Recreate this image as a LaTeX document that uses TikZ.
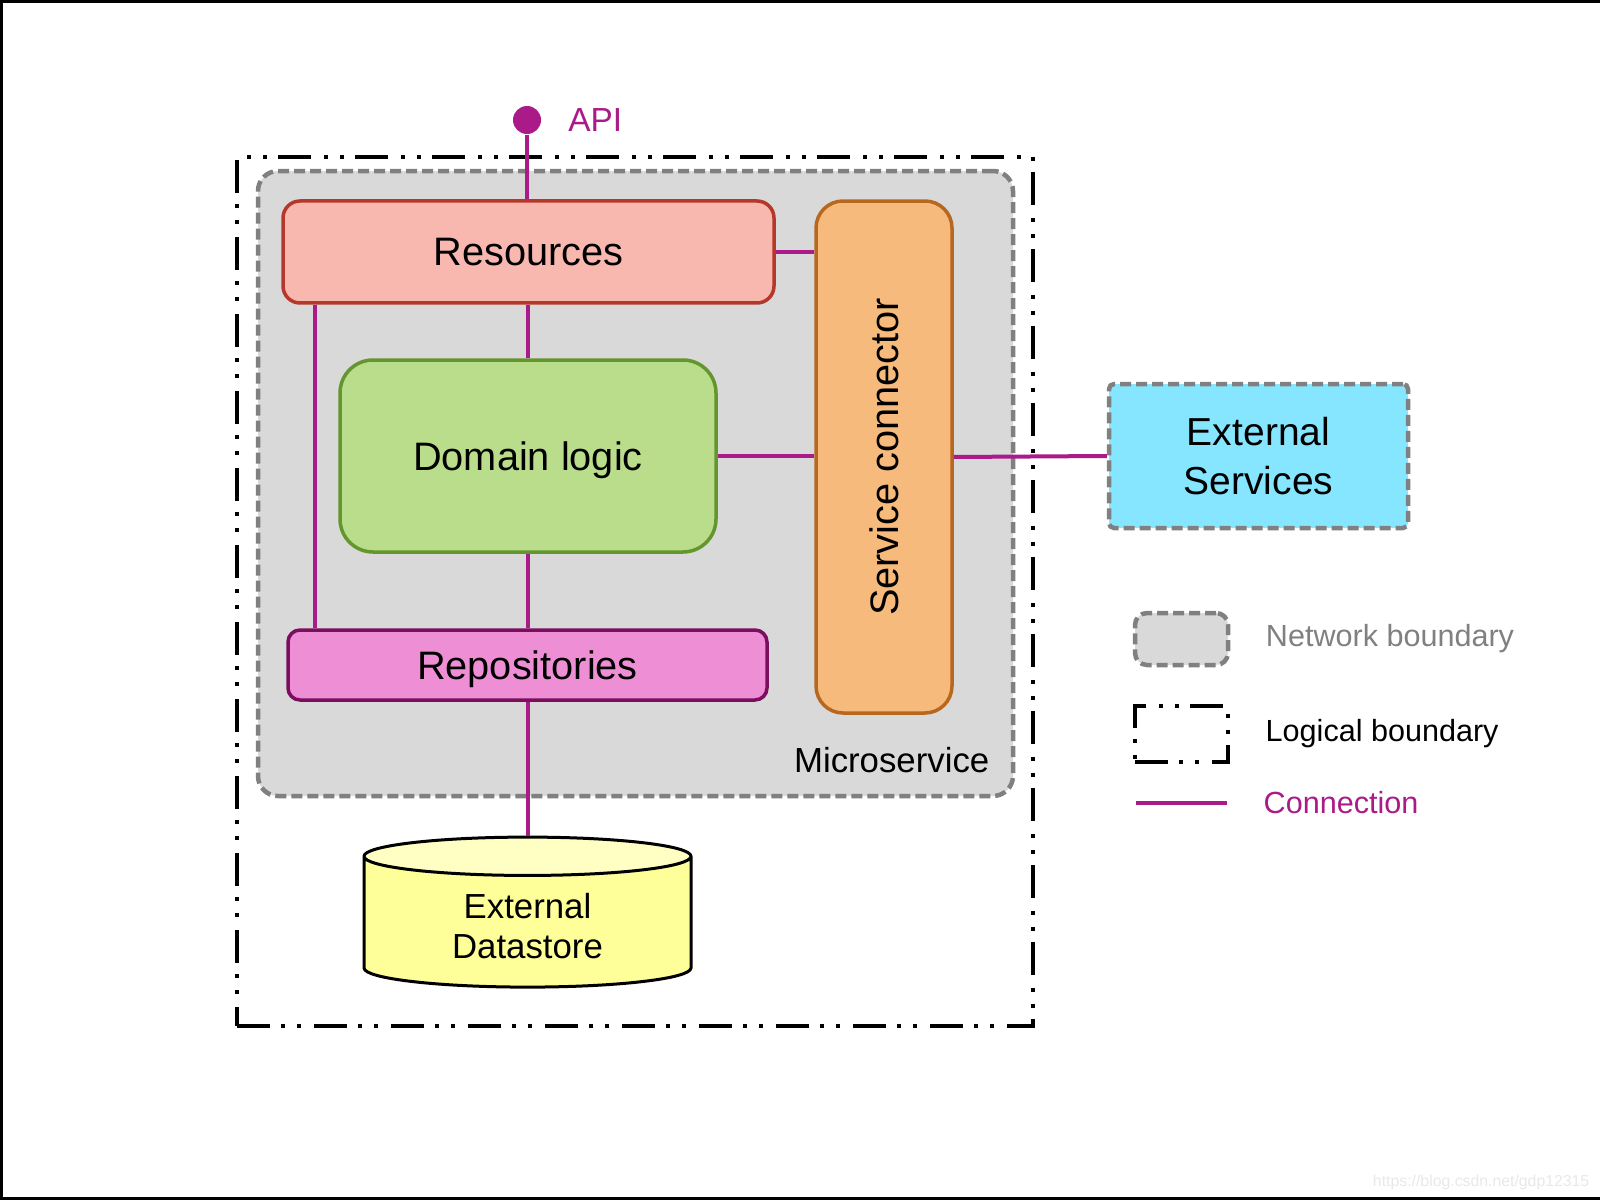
\documentclass[tikz,border=0pt]{standalone}
\usepackage{fontspec}
\setmainfont{Liberation Sans}
\usetikzlibrary{positioning}
\usetikzlibrary{shapes.geometric}
\usetikzlibrary{calc}
\definecolor{conn}{HTML}{AA1A88}
\definecolor{netgray}{HTML}{808080}
\definecolor{netfill}{HTML}{D9D9D9}
\definecolor{resfill}{HTML}{F8B7AF}
\definecolor{resline}{HTML}{B5392A}
\definecolor{domfill}{HTML}{BADD8B}
\definecolor{domline}{HTML}{64962E}
\definecolor{repfill}{HTML}{EE8FD6}
\definecolor{repline}{HTML}{7B0E5F}
\definecolor{scfill}{HTML}{F5BA7C}
\definecolor{scline}{HTML}{B7681E}
\definecolor{extfill}{HTML}{86E6FF}
\definecolor{storefill}{HTML}{FFFF99}
\definecolor{storetop}{HTML}{FFFFC4}
\tikzset{
  netline/.style={draw=netgray, line width=0.45mm, dash pattern=on 1.1mm off 0.5mm},
  logicline/.style={draw=black, line width=0.4mm, dash pattern=on 3.3mm off 1.1mm on 0.4mm off 1.2mm on 0.4mm off 1.3mm},
  box/.style={rectangle, draw, line width=0.35mm, inner sep=0pt, align=center},
  link/.style={draw=conn, line width=0.4mm},
  bigfont/.style={font=\fontsize{11.3}{13.6}\selectfont, text depth=0pt},
  midfont/.style={font=\fontsize{9.9}{11.4}\selectfont},
  keyfont/.style={font=\fontsize{8.7}{10}\selectfont},
}

\begin{document}
\begin{tikzpicture}[x=0.1mm, y=-0.1mm, node distance=3.5mm]
            \useasboundingbox (0,0) rectangle (1600,1200);
            \draw[line width=0.3mm] (1600,1.5) -- (1.5,1.5) -- (1.5,1198.5) -- (1600,1198.5);
            \node[logicline, minimum width=79.6mm, minimum height=86.9mm] (logic) at (635,591.5) {};
            \node[netline, fill=netfill, rounded corners=2mm, minimum width=75.5mm, minimum height=62.5mm] (net) at (635.5,483.5) {};
            \node[midfont, anchor=east, inner sep=0] (mslab) at (990,760) {Microservice};
            \node[box, draw=resline, fill=resfill, rounded corners=1.7mm, minimum width=49.1mm, minimum height=10.2mm, bigfont] (res) at (528.5,252) {Resources};
            \node[box, draw=domline, fill=domfill, rounded corners=3.3mm, minimum width=37.6mm, minimum height=19.2mm, bigfont] (dom) at (528,456) {Domain logic};
            \node[box, draw=repline, fill=repfill, rounded corners=1.2mm, minimum width=47.9mm, minimum height=7mm, bigfont] (repo) at (527.5,665) {Repositories};
            \node[box, draw=scline, fill=scfill, rounded corners=2.7mm, minimum width=13.6mm, minimum height=51.2mm, font=\fontsize{11.3}{13.6}\selectfont] (sc) at (884,457) {\rotatebox{90}{Service connector}};
            \node[box, netline, fill=extfill, rounded corners=0.5mm, minimum width=29.9mm, minimum height=14.4mm, font=\fontsize{11.1}{13.7}\selectfont] (ext) at (1258.5,456) {External\\Services};
            \node[cylinder, shape border rotate=90, draw, line width=0.3mm, aspect=0.22, cylinder uses custom fill, cylinder body fill=storefill, cylinder end fill=storetop, minimum width=32.7mm, minimum height=15mm, align=center, midfont] (store) at (527.5,926) {External\\Datastore};
            \node[circle, fill=conn, minimum size=2.8mm, inner sep=0] (api) at (527,120) {};
            \node[text=conn, font=\fontsize{9.5}{11}\selectfont, inner sep=0, right=2.6mm of api] (apilab) {API};
            \coordinate (lft) at ($(res.south west)+(34,0)$);
            \path[link]
            (api) edge (api |- res.north)
            (dom.north) edge (dom.north |- res.south)
            (dom.south) edge (dom.south |- repo.north)
            (lft) edge (lft |- repo.north)
            (repo.south) edge (repo.south |- store.north)
            (res.east) edge (res.east -| sc.west)
            (dom.east) edge (dom.east -| sc.west)
            (sc.east) edge (ext.west);
            \node[netline, fill=netfill, rounded corners=1.2mm, minimum width=9.3mm, minimum height=5.2mm] (netkey) at (1181.5,639) {};
            \node[logicline, minimum width=9.3mm, minimum height=5.6mm] (logkey) at (1181.5,734) {};
            \coordinate (ck1) at (1136,803);
            \coordinate (ck2) at (1227,803);
            \draw[link] (ck1) -- (ck2);
            \node[keyfont, text=netgray, inner sep=0, right=3.5mm of netkey] (netlab) {Network boundary};
            \node[keyfont, inner sep=0, right=3.5mm of logkey] (loglab) {Logical boundary};
            \node[keyfont, text=conn, inner sep=0, right=3.6mm of ck2] (connlab) {Connection};
            \node[font=\fontsize{4.5}{5}\selectfont, text=black!9, anchor=east, inner sep=0] (mark) at (1590,1182) {https://blog.csdn.net/gdp12315};
        \end{tikzpicture}
\end{document}
